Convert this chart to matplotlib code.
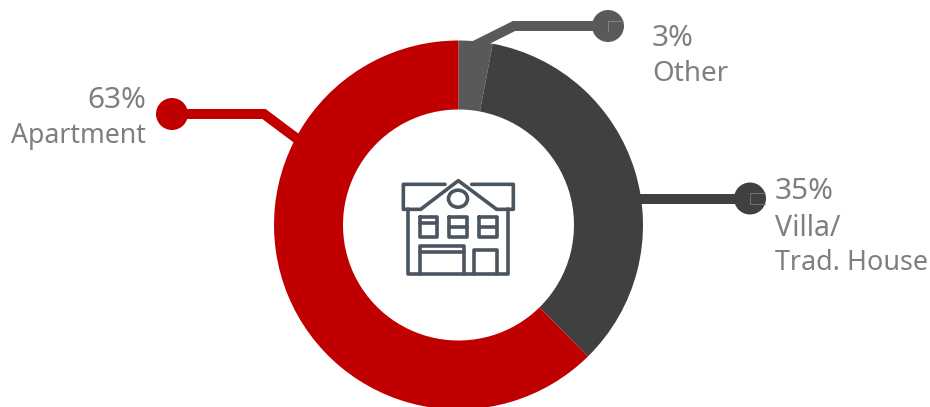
import matplotlib
matplotlib.use("Agg")
import matplotlib.pyplot as plt
from matplotlib.patches import Ellipse

plt.rcParams['font.family'] = ['Noto Sans', 'DejaVu Sans']

# Dwelling type shares, clockwise from twelve o'clock
categories = ["Other", "Villa/\nTrad. House", "Apartment"]
shares = [3, 35, 63]
tick_text = ["3%", "35%", "63%"]
colors = ["#595959", "#404040", "#C00000"]
TEXT = "#7F7F7F"
ICON = "#4A5560"

W, H = 930, 407
fig = plt.figure(figsize=(W / 100, H / 100), dpi=100)
ax = fig.add_axes([0, 0, 1, 1])


def flip(y):
    """Convert a top-down pixel row into the upward axis coordinate."""
    return H - y


cx, cy, r_out, r_in = 458.5, 225, 184.5, 115.5
ax.pie(shares, colors=colors, startangle=90, counterclock=False,
       center=(cx, flip(cy)), radius=r_out,
       wedgeprops=dict(width=r_out - r_in, linewidth=0))
ax.set_xlim(0, W)
ax.set_ylim(0, H)
ax.set_aspect("equal")
ax.axis("off")


def leader(xs, ys, color, dot):
    ax.plot(xs, [flip(y) for y in ys], color=color, lw=7.2,
            solid_joinstyle="miter", solid_capstyle="butt", zorder=3)
    ax.add_patch(Ellipse((dot[0], flip(dot[1])), 32, 32, color=color, lw=0, zorder=4))


leader([172, 264, 300], [114, 114, 141], colors[2], (172, 114))
leader([640, 750], [199, 199], colors[1], (750, 198.5))
leader([472, 514, 608], [47, 26, 26], colors[0], (608, 26))

# Faint corner marks inside the two grey dots
ax.plot([608, 608, 623], [flip(31), flip(21), flip(21)], color="#8A8A8A", lw=0.6, zorder=5)
ax.plot([765, 750, 750, 765], [flip(193), flip(193), flip(204), flip(204)],
        color="#7A7A7A", lw=0.6, zorder=5)


def label(x, y, s, size, ha="left"):
    ax.text(x, flip(y), s, color=TEXT, fontsize=size, ha=ha, va="center_baseline", zorder=6)


label(652, 35.5, tick_text[0], 21.5)
label(652, 70.5, categories[0], 20)
label(775, 188, tick_text[1], 21.5)
label(775, 225, "Villa/", 20.5)
label(775, 259, "Trad. House", 19.4)
label(146, 96.5, tick_text[2], 21.5, ha="right")
label(146, 132, categories[2], 19.2, ha="right")


def zoomed(pts):
    """Icon outline points given on a 3x grid anchored at (380, 160)."""
    return [380 + p[0] / 3 for p in pts], [flip(160 + p[1] / 3) for p in pts]


def stroke(pts):
    xs, ys = zoomed(pts)
    ax.plot(xs, ys, color=ICON, lw=2.6, solid_joinstyle="round",
            solid_capstyle="round", zorder=5)


def box(x0, y0, x1, y1):
    stroke([(x0, y0), (x1, y0), (x1, y1), (x0, y1), (x0, y0)])


# House pictogram in the hole of the ring
stroke([(195, 73), (70, 73), (70, 148), (122, 148), (235, 62), (350, 148),
        (400, 148), (400, 73), (275, 73)])
stroke([(85, 148), (85, 343), (385, 343), (385, 148)])
box(120, 172, 172, 232)
stroke([(120, 190), (172, 190)])
box(208, 172, 262, 232)
stroke([(208, 202), (262, 202)])
box(298, 172, 352, 232)
stroke([(298, 202), (352, 202)])
stroke([(120, 343), (120, 258), (252, 258), (252, 343)])
stroke([(120, 275), (252, 275)])
stroke([(283, 343), (283, 270), (352, 270), (352, 343)])
ax.add_patch(Ellipse((380 + 234 / 3, flip(160 + 116 / 3)), 19, 17, fill=False,
                     edgecolor=ICON, lw=2.6, zorder=5))

fig.savefig("out.png", dpi=100, facecolor="white")
